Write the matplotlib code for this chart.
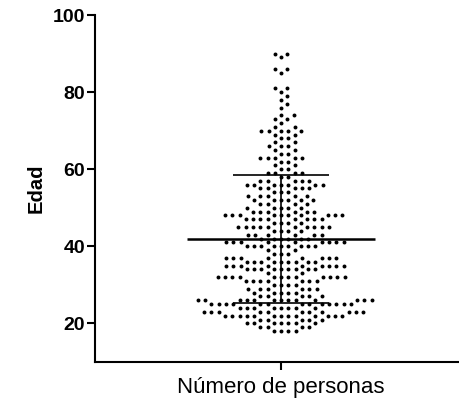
import numpy as np
import matplotlib
matplotlib.use("Agg")
import matplotlib.pyplot as plt

plt.rcParams['font.family'] = ['Liberation Sans', 'DejaVu Sans']

# Data: ages (Edad) and number of people at each age
edades = [90, 89, 86, 85, 81, 80, 79, 78, 77, 76,
          74, 73, 72, 71, 70, 69, 68, 67, 66, 65,
          64, 63, 62, 61, 60, 59, 58, 57, 56, 55,
          54, 53, 52, 51, 50, 49, 48, 47, 46, 45,
          44, 43, 42, 41, 40, 39, 38, 37, 36, 35,
          34, 33, 32, 31, 30, 29, 28, 27, 26, 25,
          24, 23, 22, 21, 20, 19, 18]
conteo = [2, 1, 2, 1, 2, 1, 1, 1, 1, 1,
          2, 2, 1, 2, 5, 2, 2, 2, 3, 2,
          2, 5, 2, 2, 2, 4, 2, 5, 7, 5,
          3, 5, 6, 4, 5, 6, 10, 8, 4, 10,
          4, 6, 6, 9, 9, 2, 3, 8, 9, 9,
          9, 2, 12, 7, 4, 6, 5, 5, 13, 13,
          8, 11, 13, 5, 7, 4, 4]
categoria = "Número de personas"
y_ticks = [20, 40, 60, 80, 100]

W, H = 460, 405
fig = plt.figure(figsize=(W / 100, H / 100), dpi=100)
ax = fig.add_axes([95 / W, (H - 362) / H, (W - 95) / W, (362 - 15) / H])

xlim = (-1.02, 0.98)
ylim = (10, 100)
ax.set_xlim(*xlim)
ax.set_ylim(*ylim)

# Raw values
ys = np.repeat(np.array(edades, dtype=float), conteo)
ys = np.sort(ys)

# Beeswarm layout computed in display pixels, converted back to data units
px_x = (W - 95) / (xlim[1] - xlim[0])
px_y = (362 - 15) / (ylim[1] - ylim[0])
d = 7.3  # minimum distance between dot centres, pixels
placed_x, placed_y = [], []
for y in ys:
    yp = y * px_y
    cands = [0.0]
    near = []
    for xj, yj in zip(placed_x, placed_y):
        dy = abs(yj - yp)
        if dy < d:
            dx = np.sqrt(d * d - dy * dy)
            near.append((xj, dx))
            cands.extend([xj + dx, xj - dx])
    cands = sorted(set(np.round(cands, 6)), key=lambda c: (abs(c), -c))
    for c in cands:
        if all(abs(c - xj) >= dx - 1e-6 for xj, dx in near):
            placed_x.append(c)
            placed_y.append(yp)
            break
xs = np.array(placed_x) / px_x

ax.scatter(xs, ys, s=8, color='black', linewidths=0, zorder=3)

media = ys.mean()
de = ys.std(ddof=1)
ax.hlines(media, -94 / px_x, 94 / px_x, color='black', lw=1.8, zorder=4)
ax.hlines([media - de, media + de], -48 / px_x, 48 / px_x,
          color='black', lw=1.2, zorder=4)
ax.vlines(0, media - de, media + de, color='black', lw=1.2, zorder=4)

ax.set_yticks(y_ticks)
ax.set_yticklabels([str(t) for t in y_ticks], fontsize=14, fontweight='bold')
ax.set_xticks([0])
ax.set_xticklabels([categoria], fontsize=16)
ax.set_ylabel("Edad", fontsize=14.5, fontweight='bold', labelpad=5)

for s in ['top', 'right']:
    ax.spines[s].set_visible(False)
for s in ['left', 'bottom']:
    ax.spines[s].set_linewidth(1.5)
ax.tick_params(axis='both', width=1.5, length=6, direction='out', colors='black')
ax.tick_params(axis='y', pad=1)
ax.tick_params(axis='x', pad=5)

fig.savefig("out.png", dpi=100)
